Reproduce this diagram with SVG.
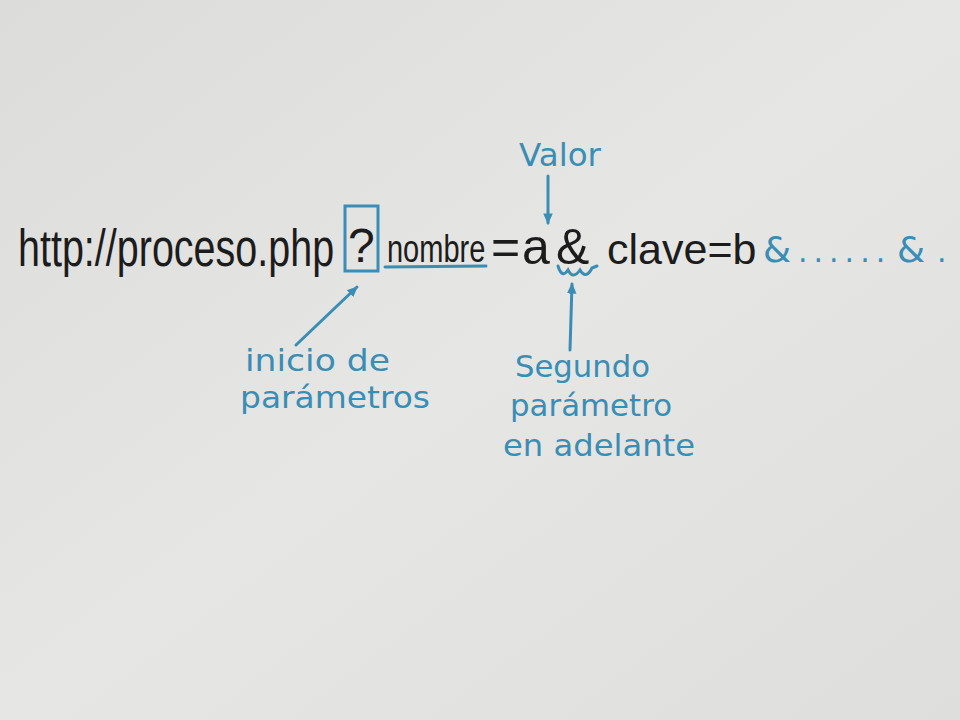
<svg xmlns="http://www.w3.org/2000/svg" width="960" height="720" viewBox="0 0 960 720">
<defs>
<linearGradient id="bg" x1="0" y1="0" x2="1" y2="1">
<stop offset="0" stop-color="#dcdcda"/>
<stop offset="0.5" stop-color="#e6e6e4"/>
<stop offset="1" stop-color="#dededc"/>
</linearGradient>
<marker id="ah" viewBox="0 0 10 10" refX="8" refY="5" markerWidth="4" markerHeight="4" orient="auto">
<path d="M0,1 L9,5 L0,9 Z" fill="#3a8db5"/>
</marker>
<style>
.blk{font-family:"Liberation Sans","DejaVu Sans",sans-serif;fill:#1c1c1c}
.blu{font-family:"DejaVu Sans","Liberation Sans",sans-serif;fill:#3a8db5}
.ln{stroke:#3a8db5;stroke-width:3;fill:none;stroke-linecap:round}
</style>
</defs>
<rect width="960" height="720" fill="url(#bg)"/>
<g id="url">
<text class="blk" x="0" y="0" font-size="39.5" transform="translate(18,266) scale(1,1.3)">http://proceso.php</text>
</g>
<g id="question">
<rect x="345" y="206" width="33" height="65" fill="none" stroke="#3a8db5" stroke-width="3"/>
<text class="blk" x="348" y="262" font-size="48">?</text>
</g>
<g id="params">
<text class="blk" x="0" y="0" font-size="29" transform="translate(387,262) scale(1,1.35)">nombre</text>
<line class="ln" x1="385" y1="267" x2="486" y2="266"/>
<text class="blk" x="491" y="264" font-size="50">=</text>
<text class="blk" x="522" y="264" font-size="50">a</text>
<text class="blk" x="556" y="264" font-size="50">&amp;</text>
<text class="blk" x="607" y="264" font-size="43">clave=b</text>
<text class="blu" x="763" y="262" font-size="36">&amp;</text>
<text class="blu" x="798" y="262" font-size="30" letter-spacing="6">......</text>
<text class="blu" x="897" y="262" font-size="36">&amp;</text>
<text class="blu" x="937" y="262" font-size="30">.</text>
</g>
<g id="valor">
<text class="blu" x="519" y="166" font-size="32" textLength="82" lengthAdjust="spacingAndGlyphs">Valor</text>
</g>
<g id="inicio">
<text class="blu" x="245" y="371" font-size="30" textLength="145" lengthAdjust="spacingAndGlyphs">inicio de</text>
<text class="blu" x="240" y="408" font-size="30" textLength="190" lengthAdjust="spacingAndGlyphs">parámetros</text>
</g>
<g id="segundo">
<text class="blu" x="515" y="377" font-size="31" textLength="135" lengthAdjust="spacingAndGlyphs">Segundo</text>
<text class="blu" x="510" y="416" font-size="31" textLength="162" lengthAdjust="spacingAndGlyphs">parámetro</text>
<text class="blu" x="503" y="456" font-size="31" textLength="192" lengthAdjust="spacingAndGlyphs">en adelante</text>
</g>
<g id="connectors">
<line class="ln" x1="548" y1="176" x2="548" y2="223" marker-end="url(#ah)"/>
<line class="ln" x1="296" y1="345" x2="357" y2="287" marker-end="url(#ah)"/>
<line class="ln" x1="570" y1="350" x2="572" y2="284" marker-end="url(#ah)"/>
<path class="ln" stroke-width="2.5" d="M558,266 Q562,279 568,270 Q573,280 580,270 Q586,280 592,268 L597,266"/>
</g>
</svg>
